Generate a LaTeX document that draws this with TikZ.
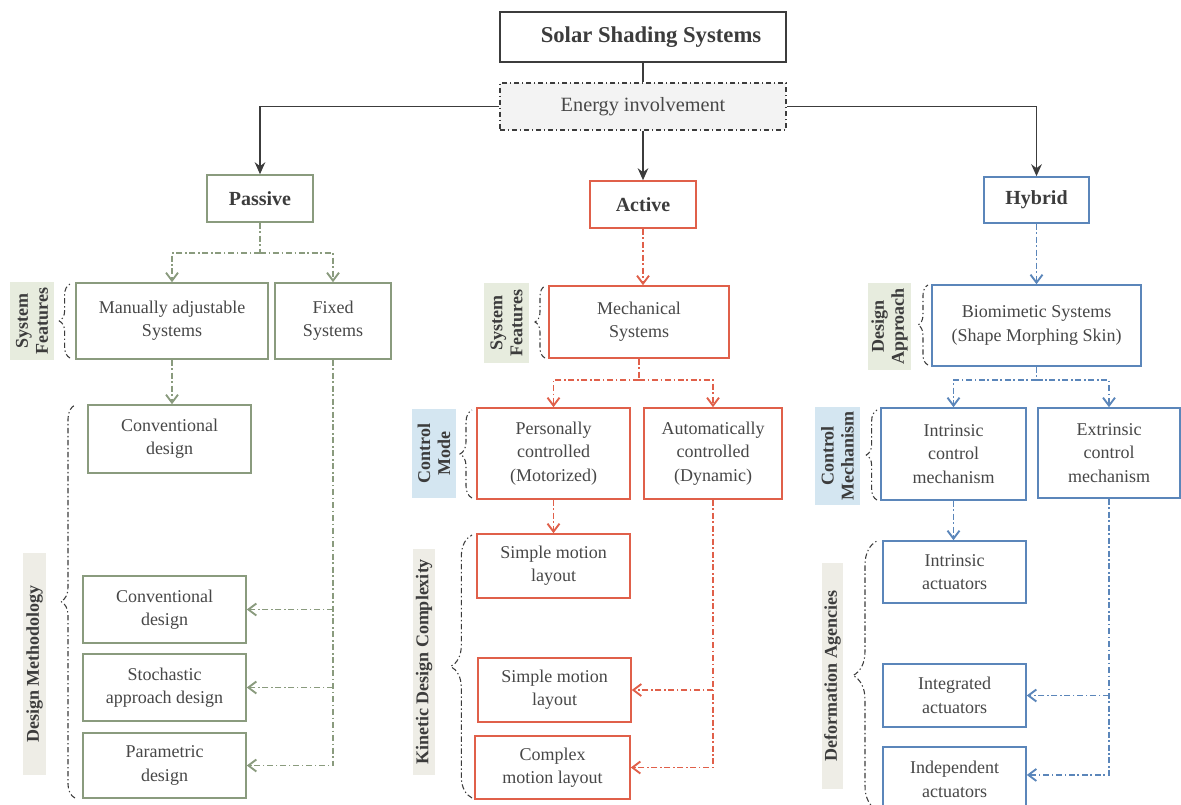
\documentclass[tikz,border=0pt]{standalone}
\usepackage{fontspec}
\setmainfont{Liberation Serif}
\usetikzlibrary{arrows.meta,decorations.pathreplacing,calc}

\definecolor{gline}{HTML}{8A9B7E}
\definecolor{rline}{HTML}{E0604A}
\definecolor{bline}{HTML}{5B86BA}
\definecolor{ink}{HTML}{3C3C3C}
\definecolor{txt}{HTML}{474747}
\definecolor{tagG}{HTML}{E7ECDE}
\definecolor{tagB}{HTML}{D4E6F1}
\definecolor{tagS}{HTML}{EEEDE6}
\definecolor{eng}{HTML}{F3F3F3}

\tikzset{
  box/.style={draw, line width=1.2pt, fill=white, align=center, inner sep=0pt,
    text=txt, font=\fontsize{13.5}{17.5}\selectfont},
  gbox/.style={box, draw=gline},
  rbox/.style={box, draw=rline},
  bbox/.style={box, draw=bline},
  headtxt/.style={font=\bfseries\fontsize{15}{18}\selectfont, text=ink},
  tag/.style={rotate=90, align=center, inner sep=0pt, text=ink,
    font=\bfseries\fontsize{13.5}{15}\selectfont},
  dd/.style={line width=1.05pt, dash pattern=on 4.5pt off 2pt on 1.2pt off 2pt},
  main/.style={draw=ink, line width=1.1pt},
  mainarrow/.style={main, -{Stealth[length=9pt,width=8pt,inset=3pt]}},
  ddarrow/.style={dd, -{Straight Barb[length=6pt,width=9pt,line width=1.4pt]}},
  gdd/.style={dd, draw=gline},
  rdd/.style={dd, draw=rline},
  bdd/.style={dd, draw=bline},
  curly/.style={draw=ink, line width=0.8pt, dash pattern=on 4pt off 2pt on 1pt off 2pt,
    decorate, decoration={brace, amplitude=#1}},
}

% box from corner (x1,y1) to (x2,y2), in pixel units
\newcommand\pbox[7]{\node[#6, minimum width={(#4-#2)*0.75pt}, minimum height={(#5-#3)*0.75pt}] (#1) at ({(#2+#4)/2},{(#3+#5)/2}) {#7};}
% rotated category label filling (x1,y1)-(x2,y2)
\newcommand\ptag[7]{\node[tag, fill=#6, minimum width={(#5-#3)*0.75pt}, minimum height={(#4-#2)*0.75pt}] (#1) at ({(#2+#4)/2},{(#3+#5)/2}) {#7};}

\begin{document}
\begin{tikzpicture}[x=0.75pt, y=-0.75pt]
\useasboundingbox (0,0) rectangle (1181,805);
\clip (0,0) rectangle (1181,805);

% ---------- top level ----------
\pbox{title}{500}{12}{786}{62}{box, draw=ink, line width=1.8pt, text=ink, font=\bfseries\fontsize{17}{20}\selectfont}{\hspace*{12pt}Solar Shading Systems}
\pbox{energy}{500}{83}{786}{130}{box, draw=ink, fill=eng, line width=0.9pt, dash pattern=on 4pt off 2pt on 1pt off 2pt, text=txt, font=\fontsize{15.2}{18}\selectfont}{Energy involvement}

\pbox{passive}{207}{175}{313}{222}{gbox, headtxt}{Passive}
\pbox{active}{590}{181}{696}{228}{rbox, headtxt}{Active}
\pbox{hybrid}{984}{177}{1089}{223}{bbox, headtxt}{Hybrid}

\draw[main] (title.south) -- (energy.north);
\draw[mainarrow] (energy.west) -| (passive.north);
\draw[mainarrow] (energy.south) -- (active.north);
\draw[mainarrow] (energy.east) -| (hybrid.north);

% ---------- passive column ----------
\pbox{manual}{76}{283}{268}{359}{gbox}{Manually adjustable\\Systems}
\pbox{fixed}{275}{283}{391}{359}{gbox}{Fixed\\Systems}
\pbox{conv1}{88}{405}{251}{473}{gbox}{Conventional\\design}
\pbox{conv2}{83}{576}{246}{643}{gbox}{Conventional\\design}
\pbox{stoch}{83}{654}{246}{721}{gbox}{Stochastic\\approach design}
\pbox{param}{83}{733}{246}{798}{gbox}{Parametric\\design}

\ptag{tagsf1}{10}{282}{54}{360}{tagG}{System\\Features}
\ptag{tagdm}{23}{553}{46}{775}{tagS}{Design Methodology}
\draw[curly=8pt] (70,358) -- (70,284);
\draw[curly=10.5pt] (75,798) -- (75,405);

\coordinate (pj) at (260,253);
\draw[gdd] (passive.south) -- (pj);
\draw[gdd, ddarrow] (pj) -| (manual.north);
\draw[gdd, ddarrow] (pj) -| (fixed.north);
\draw[gdd, ddarrow] (manual.south) -- (manual.south |- conv1.north);
\draw[gdd, ddarrow] (fixed.south) |- (param.east);
\draw[gdd, ddarrow] (fixed.south |- conv2.east) -- (conv2.east);
\draw[gdd, ddarrow] (fixed.south |- stoch.east) -- (stoch.east);

% ---------- active column ----------
\pbox{mech}{549}{286}{729}{358}{rbox}{Mechanical\\Systems}
\pbox{pers}{477}{408}{630}{499}{rbox}{Personally\\controlled\\(Motorized)}
\pbox{auto}{644}{408}{782}{499}{rbox}{Automatically\\controlled\\(Dynamic)}
\pbox{simple1}{477}{534}{630}{598}{rbox}{Simple motion\\layout}
\pbox{simple2}{478}{658}{631}{722}{rbox}{Simple motion\\layout}
\pbox{complex}{475}{736}{630}{799}{rbox}{Complex\\motion layout}

\ptag{tagsf2}{484}{283}{529}{363}{tagG}{System\\Features}
\ptag{tagcm}{412}{409}{456}{498}{tagB}{Control\\Mode}
\ptag{tagkd}{413}{549}{435}{775}{tagS}{Kinetic Design Complexity}
\draw[curly=7.5pt] (545,358) -- (545,286);
\draw[curly=9pt] (472,498) -- (472,410);
\draw[curly=16pt] (472,798) -- (472,535);

\draw[rdd, ddarrow] (active.south) -- (active.south |- mech.north);
\coordinate (mj) at (639,380);
\draw[rdd] (mech.south) -- (mj);
\draw[rdd, ddarrow] (mj) -| (pers.north);
\draw[rdd, ddarrow] (mj) -| (auto.north);
\draw[rdd, ddarrow] (pers.south) -- (pers.south |- simple1.north);
\draw[rdd, ddarrow] (auto.south) |- (complex.east);
\draw[rdd, ddarrow] (auto.south |- simple2.east) -- (simple2.east);

% ---------- hybrid column ----------
\pbox{bio}{932}{285}{1141}{366}{bbox}{Biomimetic Systems\\(Shape Morphing Skin)}
\pbox{intr}{881}{408}{1026}{500}{bbox}{Intrinsic\\control\\mechanism}
\pbox{extr}{1038}{408}{1180}{498}{bbox}{Extrinsic\\control\\mechanism}
\pbox{intract}{883}{541}{1026}{603}{bbox}{Intrinsic\\actuators}
\pbox{integ}{883}{664}{1026}{727}{bbox}{Integrated\\actuators}
\pbox{indep}{883}{747}{1026}{812}{bbox}{Independent\\actuators}

\ptag{tagda}{868}{283}{911}{370}{tagG}{Design\\Approach}
\ptag{tagcmech}{815}{407}{860}{505}{tagB}{Control\\Mechanism}
\ptag{tagdef}{822}{563}{843}{789}{tagS}{Deformation Agencies}
\draw[curly=7.5pt] (928,365) -- (928,285);
\draw[curly=8pt] (877,500) -- (877,410);
\draw[curly=18pt] (877,810) -- (877,541);

\draw[bdd, ddarrow] (hybrid.south) -- (hybrid.south |- bio.north);
\coordinate (bj) at (1036.5,380);
\draw[bdd] (bio.south) -- (bj);
\draw[bdd, ddarrow] (bj) -| (intr.north);
\draw[bdd, ddarrow] (bj) -| (extr.north);
\draw[bdd, ddarrow] (intr.south) -- (intr.south |- intract.north);
\draw[bdd, ddarrow] (extr.south) |- ([yshift=3.4pt]indep.east);
\draw[bdd, ddarrow] (extr.south |- integ.east) -- (integ.east);

\end{tikzpicture}
\end{document}
